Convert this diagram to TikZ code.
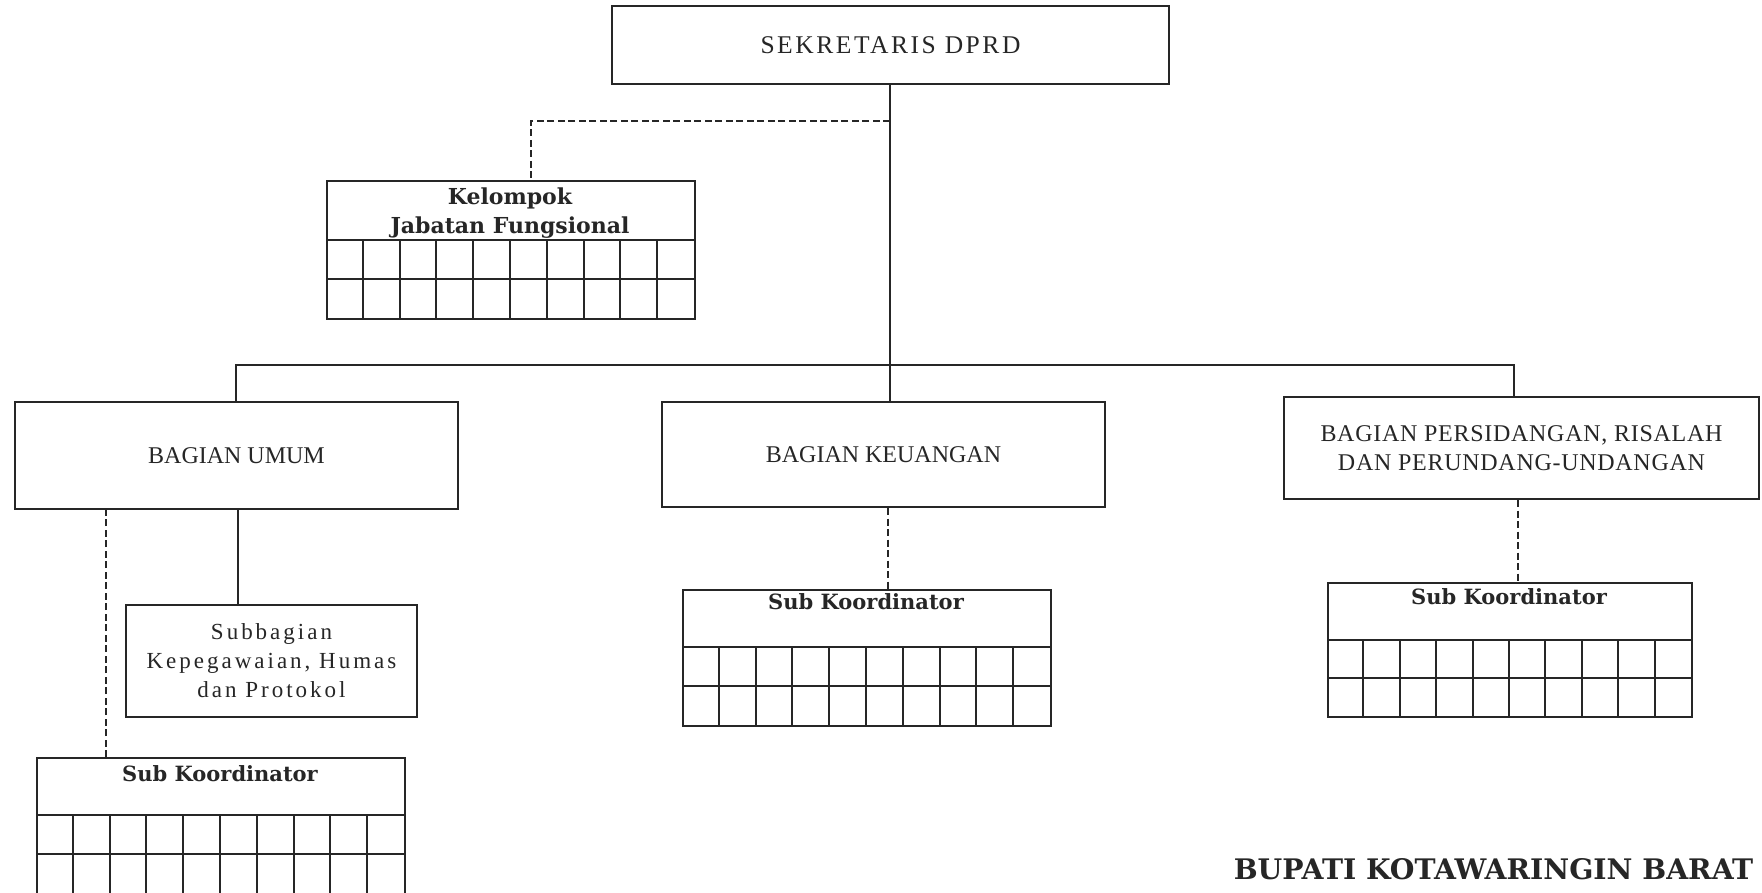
\documentclass[tikz,border=0pt]{standalone}
\usepackage{fontspec}
\setmainfont{Liberation Serif}
\newfontfamily\slab{DejaVu Serif}
\definecolor{ink}{RGB}{38,38,38}
\tikzset{
  box/.style={draw=ink, text=ink, line width=2pt, inner sep=0pt, align=center,
    font=\fontsize{24}{29}\selectfont},
  gframe/.style={draw=ink, line width=2pt, inner sep=0pt},
  gline/.style={draw=ink, line width=2pt},
  hd/.style={text=ink, inner sep=0pt, anchor=base, font=\slab\bfseries\fontsize{21}{26}\selectfont},
  conn/.style={draw=ink, line width=2pt},
  dconn/.style={draw=ink, line width=2pt, dash pattern=on 7pt off 3.5pt},
}
\newcommand\gridbox[6]{%
  \node[gframe, anchor=north west, minimum width=#4pt, minimum height={#5pt+2*#6pt}] (#1) at (#2,#3) {};
  \draw[gline] (#2,#3+#5) -- ++(#4,0);
  \draw[gline] (#2,#3+#5+#6) -- ++(#4,0);
  \foreach \i in {1,...,9} \draw[gline] ({round(#2+\i*#4/10)},#3+#5) -- ++(0,2*#6);
}
\begin{document}
\begin{tikzpicture}[x=1pt,y=-1pt]
\useasboundingbox[fill=white] (0,0) rectangle (1762,893);

% main boxes
\node[box, minimum width=557pt, minimum height=78pt,
  font=\fontsize{25.5}{30}\selectfont\addfontfeature{LetterSpace=10}] (sek) at (890.5,45) {SEKRETARIS DPRD};
\node[box, minimum width=443pt, minimum height=107pt] (umum) at (236.5,455.5) {BAGIAN UMUM};
\node[box, minimum width=443pt, minimum height=105pt] (keu) at (883.5,454.5) {BAGIAN KEUANGAN};
\node[box, minimum width=475pt, minimum height=102pt,
  font=\fontsize{24}{29}\selectfont\addfontfeature{LetterSpace=3}] (pers) at (1521.5,448)
  {BAGIAN PERSIDANGAN, RISALAH\\DAN PERUNDANG-UNDANGAN};
\node[box, minimum width=291pt, minimum height=112pt,
  font=\fontsize{23}{29}\selectfont\addfontfeature{LetterSpace=13}] (sub) at (271.5,661)
  {Subbagian\\Kepegawaian, Humas\\dan Protokol};

% grid boxes
\gridbox{kel}{326}{180}{368}{60}{39}
\node[hd, font=\slab\bfseries\fontsize{22}{26}\selectfont] (kelt1) at (510,205) {Kelompok};
\node[hd, font=\slab\bfseries\fontsize{22}{26}\selectfont] (kelt2) at (510,234) {Jabatan Fungsional};

\gridbox{skl}{36}{757}{368}{58}{39}
\node[hd] (sklt) at (220,781) {Sub Koordinator};

\gridbox{skm}{682}{589}{368}{58}{39}
\node[hd] (skmt) at (866,609) {Sub Koordinator};

\gridbox{skr}{1327}{582}{364}{58}{38}
\node[hd] (skrt) at (1509,604) {Sub Koordinator};

% connectors
\coordinate (bus) at (890,365);
\coordinate (dj) at (890,121);
\draw[conn] ([xshift=-0.5pt]sek.south) -- ([xshift=-0.5pt]sek.south |- keu.north);
\draw[conn] ([xshift=-0.5pt]umum.north) |- (bus) -| ([xshift=-7.5pt]pers.north);
\draw[dconn] (dj) -| ([xshift=20pt]kel.north);
\draw[conn] ([xshift=1.5pt]umum.south) -- ([xshift=1.5pt]umum.south |- sub.north);
\draw[dconn] ([xshift=70pt]skl.north west) -- ([xshift=70pt]skl.north west |- umum.south);
\draw[dconn] ([xshift=4.5pt]keu.south) -- ([xshift=4.5pt]keu.south |- skm.north);
\draw[dconn] ([xshift=-3.5pt]pers.south) -- ([xshift=-3.5pt]pers.south |- skr.north);

% footer
\node[text=ink, inner sep=0pt, font=\slab\bfseries\fontsize{28.3}{32}\selectfont] (bup) at (1493.5,869) {BUPATI KOTAWARINGIN BARAT};
\end{tikzpicture}
\end{document}
